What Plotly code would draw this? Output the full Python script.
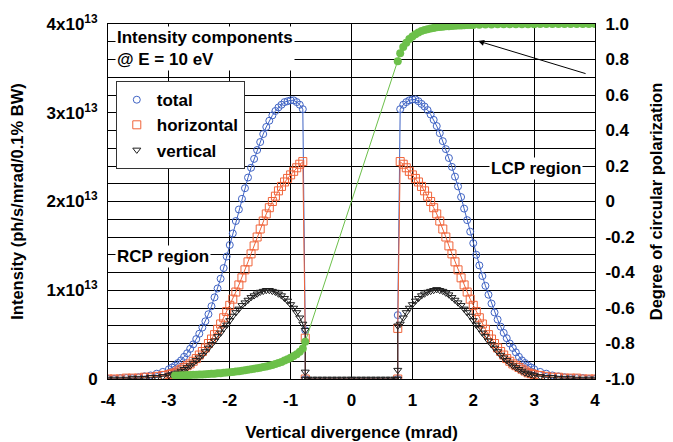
import plotly.graph_objects as go

# ---------------- data (intensity in units of 1e13 ph/s/mrad/0.1% BW) ----------------
x_left = [-4.0, -3.9, -3.8, -3.7, -3.6, -3.5, -3.4, -3.3, -3.2, -3.1,
          -3.0, -2.95, -2.9, -2.85, -2.8, -2.75, -2.7, -2.65, -2.6, -2.55,
          -2.5, -2.45, -2.4, -2.35, -2.3, -2.25, -2.2, -2.15, -2.1, -2.05,
          -2.0, -1.95, -1.9, -1.85, -1.8, -1.75, -1.7, -1.65, -1.6, -1.55,
          -1.5, -1.45, -1.4, -1.35, -1.3, -1.25, -1.2, -1.15, -1.1, -1.05,
          -1.0, -0.95, -0.9, -0.85, -0.8]
total_left = [0.00, 0.00, 0.01, 0.01, 0.01, 0.02, 0.03, 0.04, 0.06, 0.08,
              0.11, 0.13, 0.15, 0.18, 0.21, 0.25, 0.29, 0.34, 0.39, 0.45,
              0.51, 0.58, 0.65, 0.73, 0.82, 0.92, 1.02, 1.13, 1.25, 1.38,
              1.51, 1.64, 1.78, 1.91, 2.03, 2.15, 2.27, 2.38, 2.48, 2.58,
              2.67, 2.76, 2.84, 2.91, 2.97, 3.02, 3.06, 3.09, 3.12, 3.13,
              3.14, 3.14, 3.12, 3.09, 3.04]
horiz_left = [0.00, 0.00, 0.00, 0.01, 0.01, 0.01, 0.02, 0.02, 0.03, 0.04,
              0.05, 0.06, 0.07, 0.09, 0.11, 0.13, 0.15, 0.17, 0.20, 0.23,
              0.27, 0.31, 0.35, 0.40, 0.45, 0.50, 0.56, 0.62, 0.69, 0.76,
              0.83, 0.90, 0.98, 1.06, 1.14, 1.23, 1.32, 1.41, 1.50, 1.60,
              1.69, 1.78, 1.86, 1.93, 2.00, 2.06, 2.12, 2.17, 2.22, 2.26,
              2.30, 2.34, 2.38, 2.42, 2.45]
vert_left = [0.00, 0.00, 0.00, 0.00, 0.01, 0.01, 0.01, 0.02, 0.02, 0.03,
             0.04, 0.05, 0.06, 0.07, 0.09, 0.11, 0.13, 0.15, 0.18, 0.21,
             0.24, 0.27, 0.31, 0.35, 0.39, 0.43, 0.48, 0.52, 0.57, 0.61,
             0.66, 0.71, 0.75, 0.79, 0.83, 0.86, 0.89, 0.92, 0.94, 0.96,
             0.98, 0.99, 1.00, 1.00, 0.99, 0.98, 0.96, 0.94, 0.91, 0.88,
             0.84, 0.80, 0.75, 0.69, 0.62]

x_right = [0.8, 0.85, 0.9, 0.95, 1.0, 1.05, 1.1, 1.15, 1.2, 1.25,
           1.3, 1.35, 1.4, 1.45, 1.5, 1.55, 1.6, 1.65, 1.7, 1.75,
           1.8, 1.85, 1.9, 1.95, 2.0, 2.05, 2.1, 2.15, 2.2, 2.25,
           2.3, 2.35, 2.4, 2.45, 2.5, 2.55, 2.6, 2.65, 2.7, 2.75,
           2.8, 2.85, 2.9, 2.95, 3.0, 3.1, 3.2, 3.3, 3.4, 3.5,
           3.6, 3.7, 3.8, 3.9, 4.0]
total_right = [3.04, 3.09, 3.12, 3.14, 3.15, 3.15, 3.13, 3.10, 3.07, 3.03,
               2.98, 2.92, 2.85, 2.77, 2.68, 2.59, 2.49, 2.39, 2.28, 2.17,
               2.05, 1.92, 1.79, 1.66, 1.53, 1.40, 1.28, 1.16, 1.05, 0.95,
               0.85, 0.75, 0.67, 0.59, 0.52, 0.46, 0.40, 0.35, 0.30, 0.25,
               0.21, 0.18, 0.15, 0.13, 0.11, 0.08, 0.06, 0.04, 0.03, 0.02,
               0.01, 0.01, 0.01, 0.00, 0.00]
horiz_right = [2.45, 2.42, 2.38, 2.34, 2.30, 2.26, 2.22, 2.17, 2.12, 2.06,
               2.00, 1.93, 1.86, 1.78, 1.69, 1.60, 1.50, 1.41, 1.32, 1.23,
               1.14, 1.06, 0.98, 0.90, 0.83, 0.76, 0.69, 0.62, 0.56, 0.50,
               0.45, 0.40, 0.35, 0.31, 0.27, 0.23, 0.20, 0.17, 0.15, 0.13,
               0.11, 0.09, 0.07, 0.06, 0.05, 0.04, 0.03, 0.02, 0.02, 0.01,
               0.01, 0.01, 0.00, 0.00, 0.00]
vert_right = [0.62, 0.69, 0.75, 0.80, 0.84, 0.88, 0.91, 0.94, 0.96, 0.98,
              0.99, 1.00, 1.01, 1.00, 0.99, 0.97, 0.95, 0.92, 0.89, 0.86,
              0.83, 0.79, 0.75, 0.71, 0.66, 0.61, 0.57, 0.52, 0.48, 0.43,
              0.39, 0.35, 0.31, 0.27, 0.24, 0.21, 0.18, 0.15, 0.13, 0.11,
              0.09, 0.07, 0.06, 0.05, 0.04, 0.03, 0.02, 0.02, 0.01, 0.01,
              0.01, 0.00, 0.00, 0.00, 0.00]

# steps at the edges of the central gap (|x| < 0.76)
x_cut_left = -0.76
x_cut_right = 0.76
total_cut_left = [0.55, 0.00]
total_cut_right = [0.00, 0.72]
horiz_cut_left = [0.46, 0.00]
horiz_cut_right = [0.00, 0.57]
vert_cut_left = [0.55, 0.08, 0.00]
vert_cut_right = [0.00, 0.10, 0.60]
gap_x = [-0.72, -0.64, -0.56, -0.48, -0.40, -0.32, -0.24, -0.16, -0.08, 0.0,
         0.08, 0.16, 0.24, 0.32, 0.40, 0.48, 0.56, 0.64, 0.72]
gap_vert = [0.0] * len(gap_x)

# degree of circular polarization (right axis)
pol_x_left = [-2.9, -2.85, -2.8, -2.75, -2.7, -2.65, -2.6, -2.55, -2.5, -2.45,
              -2.4, -2.35, -2.3, -2.25, -2.2, -2.15, -2.1, -2.05, -2.0, -1.95,
              -1.9, -1.85, -1.8, -1.75, -1.7, -1.65, -1.6, -1.55, -1.5, -1.45,
              -1.4, -1.35, -1.3, -1.25, -1.2, -1.15, -1.1, -1.05, -1.0, -0.95,
              -0.9, -0.85, -0.8, -0.76]
pol_left = [-0.980, -0.980, -0.979, -0.979, -0.978, -0.977, -0.976, -0.976, -0.975, -0.974,
            -0.973, -0.972, -0.971, -0.970, -0.968, -0.967, -0.965, -0.964, -0.962, -0.960,
            -0.958, -0.956, -0.953, -0.951, -0.948, -0.945, -0.942, -0.939, -0.936, -0.933,
            -0.929, -0.925, -0.921, -0.916, -0.910, -0.904, -0.896, -0.889, -0.880, -0.871,
            -0.860, -0.846, -0.828, -0.790]
pol_x_right = [0.76, 0.8, 0.85, 0.9, 0.95, 1.0, 1.05, 1.1, 1.15, 1.2,
               1.25, 1.3, 1.35, 1.4, 1.45, 1.5, 1.55, 1.6, 1.65, 1.7,
               1.75, 1.8, 1.85, 1.9, 1.95, 2.0, 2.1, 2.2, 2.3, 2.4,
               2.5, 2.6, 2.7, 2.8, 2.9, 3.0, 3.1, 3.2, 3.3, 3.4,
               3.5, 3.6, 3.7, 3.8, 3.9, 4.0]
pol_right = [0.790, 0.835, 0.870, 0.895, 0.915, 0.930, 0.942, 0.952, 0.960, 0.966,
             0.971, 0.975, 0.978, 0.981, 0.983, 0.985, 0.987, 0.988, 0.989, 0.990,
             0.991, 0.992, 0.993, 0.994, 0.995, 0.995, 0.996, 0.997, 0.997, 0.998,
             0.998, 0.998, 0.999, 0.999, 0.999, 0.999, 1.0, 1.0, 1.0, 1.0,
             1.0, 1.0, 1.0, 1.0, 1.0, 1.0]

# axis ticks
x_ticks = [-4, -3, -2, -1, 0, 1, 2, 3, 4]
y_ticks = [0, 1, 2, 3, 4]
y_labels = ["0", "1x10<sup>13</sup>", "2x10<sup>13</sup>",
            "3x10<sup>13</sup>", "4x10<sup>13</sup>"]
y2_ticks = [-1.0, -0.8, -0.6, -0.4, -0.2, 0.0, 0.2, 0.4, 0.6, 0.8, 1.0]
y2_labels = ["-1.0", "-0.8", "-0.6", "-0.4", "-0.2", "0", "0.2", "0.4", "0.6", "0.8", "1.0"]

# ---------------- styling ----------------
FONT = "Arial, Liberation Sans, sans-serif"
BLUE = "#3f63c4"
ORANGE = "#f0643a"
DARK = "#1e1e1e"
GREEN = "#6cc04a"

def bold(size):
    return dict(family=FONT, size=size, color="black", weight="bold")

series_style = [
    ("total", BLUE, "circle-open", 7),
    ("horizontal", ORANGE, "square-open", 8),
    ("vertical", DARK, "triangle-down-open", 7),
]

fig = go.Figure()

tx = x_left + [x_cut_left] * 2 + [x_cut_right] * 2 + x_right
vx = x_left + [x_cut_left] * 3 + gap_x + [x_cut_right] * 3 + x_right
series_xy = [
    (tx, total_left + total_cut_left + total_cut_right + total_right),
    (tx, horiz_left + horiz_cut_left + horiz_cut_right + horiz_right),
    (vx, vert_left + vert_cut_left + gap_vert + vert_cut_right + vert_right),
]

for (name, col, sym, sz), (xs, ys) in zip(series_style, series_xy):
    fig.add_trace(go.Scatter(
        x=xs, y=ys, mode="lines+markers", name=name, showlegend=False,
        line=dict(color=col, width=1),
        marker=dict(symbol=sym, size=sz, color=col, line=dict(width=1))))

# legend entries (marker only, as in the reference)
for name, col, sym, sz in series_style:
    fig.add_trace(go.Scatter(
        x=[None], y=[None], mode="markers", name=name,
        marker=dict(symbol=sym, size=sz, color=col, line=dict(width=1))))

fig.add_trace(go.Scatter(
    x=pol_x_left + pol_x_right, y=pol_left + pol_right, yaxis="y2",
    mode="lines+markers", showlegend=False,
    line=dict(color=GREEN, width=1),
    marker=dict(symbol="circle", size=8, color=GREEN)))

fig.update_layout(
    width=673, height=442,
    margin=dict(l=108, r=78, t=24, b=63),
    paper_bgcolor="white", plot_bgcolor="white",
    font=bold(17),
    showlegend=True,
    legend=dict(x=0.016, y=0.839, xanchor="left", yanchor="top",
                bgcolor="white", bordercolor="#333333", borderwidth=1,
                font=bold(17), itemwidth=30, tracegroupgap=0),
    xaxis=dict(range=[-4, 4], tickvals=x_ticks, ticktext=[str(v) for v in x_ticks],
               showgrid=True, gridcolor="black", gridwidth=1, zeroline=False,
               showline=True, linecolor="black", linewidth=1, mirror=True,
               ticks="", tickfont=bold(17), ticklabelstandoff=6, automargin=False,
               title=dict(text="Vertical divergence (mrad)", font=bold(17), standoff=22)),
    yaxis=dict(range=[0, 4], tickvals=y_ticks, ticktext=y_labels,
               showgrid=True, gridcolor="black", gridwidth=1, zeroline=False,
               minor=dict(dtick=0.2, showgrid=True, gridcolor="black", gridwidth=1, ticks=""),
               showline=True, linecolor="black", linewidth=1, mirror=True,
               ticks="", tickfont=bold(17), ticklabelstandoff=6, automargin=False,
               title=dict(text="Intensity (ph/s/mrad/0.1% BW)", font=bold(16.5), standoff=18)),
    yaxis2=dict(range=[-1, 1], overlaying="y", side="right",
                tickvals=y2_ticks, ticktext=y2_labels,
                showgrid=False, zeroline=False, showline=True, linecolor="black",
                ticks="", tickfont=bold(17), ticklabelstandoff=6, automargin=False,
                title=dict(text="Degree of circular polarization", font=bold(16.5), standoff=16)),
)

fig.add_annotation(xref="paper", yref="paper", x=0.0144, y=0.994,
                   xanchor="left", yanchor="top", align="left",
                   text="Intensity components<br>@ E = 10 eV",
                   showarrow=False, bgcolor="white", borderpad=1, font=bold(17))
fig.add_annotation(xref="paper", yref="paper", x=0.782, y=0.594,
                   xanchor="left", yanchor="middle",
                   text="LCP region", showarrow=False, bgcolor="white",
                   borderpad=1, font=bold(17))
fig.add_annotation(xref="paper", yref="paper", x=0.014, y=0.344,
                   xanchor="left", yanchor="middle",
                   text="RCP region", showarrow=False, bgcolor="white",
                   borderpad=1, font=bold(17))
fig.add_annotation(xref="x", yref="y2", x=2.08, y=0.904,
                   axref="x", ayref="y2", ax=3.87, ay=0.718,
                   text="", showarrow=True, arrowhead=2, arrowsize=1.2,
                   arrowwidth=1, arrowcolor="black")

fig.write_html("out.html",
               config={"displayModeBar": False},
               post_script="document.body.style.margin='0px';document.body.style.overflow='hidden';")
